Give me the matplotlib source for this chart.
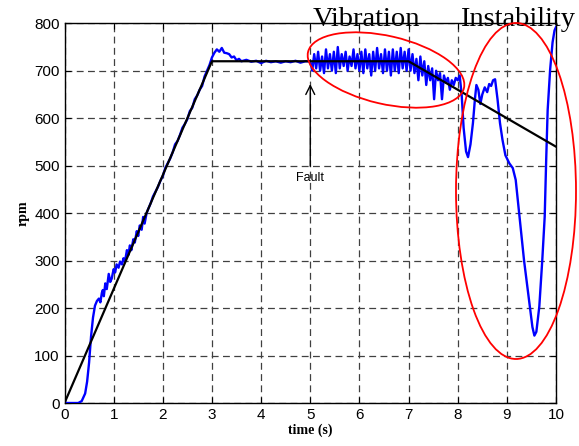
import numpy as np
import matplotlib
matplotlib.use("Agg")
import matplotlib.pyplot as plt
from matplotlib.patches import Ellipse

# measured speed (blue)
t_ramp = [0.0, 0.28, 0.35, 0.42, 0.46, 0.5, 0.54, 0.58, 0.62, 0.66, 0.7, 0.73,
          0.76, 0.78, 0.8, 0.83, 0.86, 0.9, 0.93, 0.96, 1.0, 1.03, 1.06, 1.1, 1.13,
          1.17, 1.2, 1.23, 1.27, 1.3, 1.33, 1.36, 1.4, 1.43, 1.47, 1.5, 1.53, 1.57,
          1.6, 1.63, 1.67, 1.7, 1.75, 1.8, 1.85, 1.9, 1.95, 2.0, 2.05, 2.1, 2.15,
          2.2, 2.25, 2.3, 2.35, 2.4, 2.45, 2.5, 2.55, 2.6, 2.65, 2.7, 2.75, 2.8,
          2.85, 2.9, 2.95, 3.0, 3.05, 3.1, 3.15, 3.2, 3.25, 3.3, 3.35, 3.4, 3.45,
          3.5, 3.55, 3.6, 3.7, 3.8, 3.9, 4.0, 4.1, 4.2, 4.3, 4.4, 4.5, 4.6, 4.7,
          4.8, 4.9]
rpm_ramp = [0, 0, 4, 20, 45, 85, 140, 180, 205, 215, 220, 212,
            232, 238, 225, 252, 240, 272, 255, 262, 282, 275, 292, 285, 298,
            292, 305, 298, 322, 312, 332, 322, 345, 338, 362, 352, 374, 365,
            392, 378, 400, 408, 420, 435, 445, 455, 468, 478, 495, 505, 515,
            528, 545, 552, 565, 580, 588, 598, 615, 622, 640, 648, 660, 668,
            688, 700, 712, 728, 738, 745, 740, 748, 738, 737, 735, 728, 730,
            722, 725, 720, 723, 719, 721, 716, 721, 718, 720, 717, 720, 718, 721,
            717, 720]

t_vib = [5.0, 5.04, 5.08, 5.12, 5.16, 5.2, 5.24, 5.28, 5.32, 5.36, 5.4, 5.44,
         5.48, 5.52, 5.56, 5.6, 5.64, 5.68, 5.72, 5.76, 5.8, 5.84, 5.88, 5.92,
         5.96, 6.0, 6.04, 6.08, 6.12, 6.16, 6.2, 6.24, 6.28, 6.32, 6.36, 6.4,
         6.44, 6.48, 6.52, 6.56, 6.6, 6.64, 6.68, 6.72, 6.76, 6.8, 6.84, 6.88,
         6.92, 6.96, 7.0, 7.04, 7.08, 7.12, 7.16, 7.2, 7.24, 7.28, 7.32, 7.36,
         7.4, 7.44, 7.48, 7.52, 7.56, 7.6, 7.64, 7.68, 7.72, 7.76, 7.8, 7.84,
         7.88, 7.92, 7.96, 8.0, 8.04]
rpm_vib = [720, 700, 735, 705, 740, 700, 730, 695, 745, 705, 735, 700,
           740, 695, 750, 705, 735, 710, 740, 700, 730, 710, 745, 705,
           735, 700, 740, 695, 745, 705, 735, 690, 740, 700, 748, 705,
           735, 695, 745, 700, 740, 690, 745, 700, 740, 695, 748, 705,
           740, 700, 745, 700, 735, 695, 725, 680, 730, 690, 720, 670,
           710, 680, 705, 640, 700, 680, 695, 640, 690, 675, 685, 660,
           680, 670, 685, 680, 690]

t_inst = [8.08, 8.12, 8.17, 8.21, 8.26, 8.31, 8.35, 8.38, 8.42, 8.46, 8.5,
          8.55, 8.6, 8.64, 8.68, 8.72, 8.76, 8.81, 8.86, 8.91, 8.97, 9.05,
          9.12, 9.18, 9.23, 9.29, 9.35, 9.41, 9.47, 9.52, 9.56, 9.6, 9.66,
          9.72, 9.77, 9.8, 9.83, 9.88, 9.93, 9.97, 10.0]
rpm_inst = [650, 580, 530, 518, 545, 590, 640, 670, 660, 630, 650,
            665, 655, 672, 668, 680, 682, 640, 590, 555, 522, 505,
            495, 470, 420, 358, 300, 250, 200, 160, 142, 150, 203,
            300, 393, 512, 617, 702, 760, 785, 792]

time = t_ramp + t_vib + t_inst
rpm = rpm_ramp + rpm_vib + rpm_inst

# reference speed (black)
t_ref = [0, 3, 7, 10]
rpm_ref = [0, 720, 720, 540]

fig = plt.figure(figsize=(5.79, 4.46), dpi=100)
ax = fig.add_axes([0.1114, 0.0964, 0.8489, 0.8514])

ax.plot(time, rpm, color="#0000ff", lw=1.7, zorder=3)
ax.plot(t_ref, rpm_ref, color="black", lw=1.6, zorder=4)

ax.set_xlim(0, 10)
ax.set_ylim(0, 800)
ax.set_xticks(range(0, 11))
ax.set_yticks(range(0, 801, 100))
ax.grid(True, color="0.25", linestyle=(0, (5.5, 3.5)), lw=0.9)
ax.tick_params(direction="in", top=True, right=True, length=4,
               labelsize=11)
for lab in ax.get_xticklabels() + ax.get_yticklabels():
    lab.set_fontfamily("Liberation Sans")
for s in ax.spines.values():
    s.set_linewidth(1.0)

ax.set_xlabel("time (s)", fontfamily="Liberation Serif", fontweight="bold",
              fontsize=10, labelpad=1)
ax.set_ylabel("rpm", fontfamily="Liberation Serif", fontweight="bold",
              fontsize=10, labelpad=3)

ax.annotate("Fault", xy=(5, 672), xytext=(5, 462), ha="center", va="bottom",
            fontfamily="Liberation Sans", fontsize=9,
            arrowprops=dict(arrowstyle="->", color="black", lw=1.0,
                            mutation_scale=16, shrinkA=2, shrinkB=0))

ax.text(5.05, 794, "Vibration", fontfamily="Liberation Serif", fontsize=20.5,
        va="baseline", clip_on=False)
ax.text(8.04, 794, "Instability", fontfamily="Liberation Serif", fontsize=20.5,
        va="baseline", clip_on=False)

# red ellipses, placed in figure pixels
px = fig.dpi_scale_trans
e1 = Ellipse((3.86, 3.76), 1.60, 0.68, angle=-13, fill=False,
             edgecolor="red", lw=1.3, transform=px, clip_on=False, zorder=5)
e2 = Ellipse((5.16, 2.55), 1.20, 3.36, angle=0, fill=False,
             edgecolor="red", lw=1.3, transform=px, clip_on=False, zorder=5)
fig.add_artist(e1)
fig.add_artist(e2)

fig.savefig("out.png", dpi=100)
